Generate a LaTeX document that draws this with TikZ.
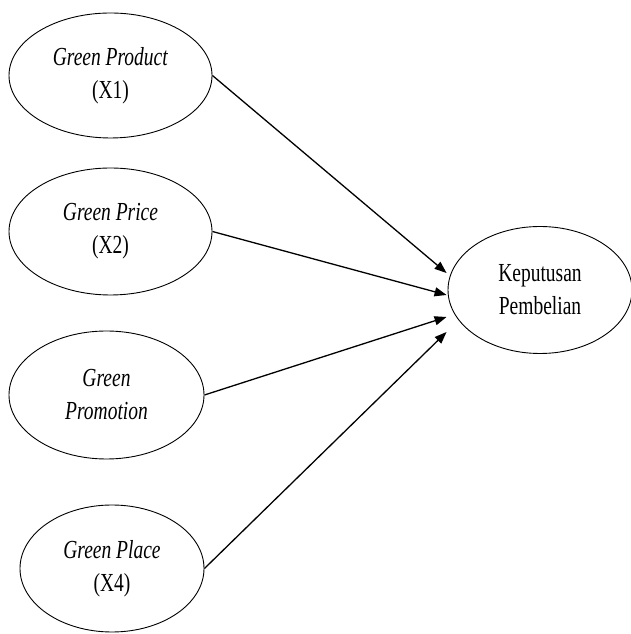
\documentclass[tikz,border=0pt]{standalone}
\usepackage{fontspec}
\setmainfont{Liberation Serif}[FakeStretch=0.75,
  UprightFont=*, ItalicFont=* Italic,
  ItalicFeatures={FakeStretch=0.75}]
\usetikzlibrary{shapes.geometric,arrows.meta}

\tikzset{
  var/.style={ellipse, draw=black, line width=0.9pt, align=center, inner sep=0pt,
    font=\fontsize{26}{33}\selectfont},
  link/.style={line width=1.3pt, -{Triangle[length=12pt,width=9pt]}}
}

\begin{document}
\begin{tikzpicture}[x=1pt, y=1pt]
\useasboundingbox (0,0) rectangle (630,634);

% =============================================
% Variables independientes (izquierda)
% =============================================
\node[var, minimum width=203pt, minimum height=125pt] (gprod)  at (110.5,558.5) {\textit{Green Product}\\(X1)};
\node[var, minimum width=203pt, minimum height=127pt] (gprice) at (110.5,402.5) {\textit{Green Price}\\(X2)};
\node[var, minimum width=195pt, minimum height=128pt] (gpromo) at (106.5,239)   {\textit{Green}\\\textit{Promotion}};
\node[var, minimum width=184pt, minimum height=127pt] (gplace) at (112,65.5)    {\textit{Green Place}\\(X4)};

% =============================================
% Variable dependiente (derecha)
% =============================================
\node[var, minimum width=184pt, minimum height=127pt] (kp) at (540,344) {Keputusan\\Pembelian};

% Puntos de llegada de las flechas
\coordinate (in1) at ([shift={(-1,17)}]kp.west);
\coordinate (in2) at ([shift={(-1,-5)}]kp.west);
\coordinate (in3) at ([shift={(-1,-27)}]kp.west);
\coordinate (in4) at ([shift={(-1,-42)}]kp.west);

% =============================================
% Flechas
% =============================================
\draw[link] (gprod.east)  -- (in1);
\draw[link] (gprice.east) -- (in2);
\draw[link] (gpromo.east) -- (in3);
\draw[link] (gplace.east) -- (in4);

\end{tikzpicture}
\end{document}
